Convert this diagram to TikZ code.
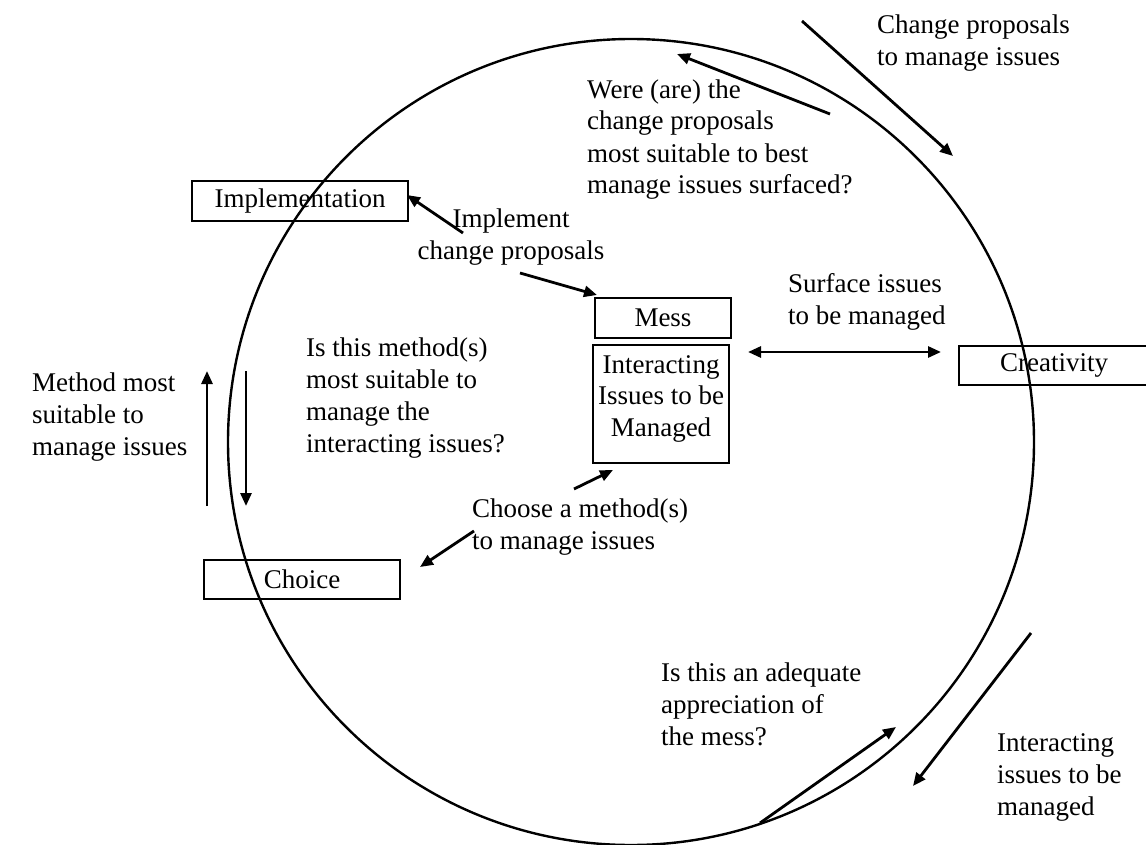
\documentclass[tikz,border=0pt]{standalone}
\usepackage{fontspec}
\setmainfont{Liberation Serif}
\usetikzlibrary{arrows.meta}
\begin{document}
\begin{tikzpicture}[x=1pt,y=-1pt,
  lbl/.style={font=\fontsize{27}{32}\selectfont, inner sep=0pt, align=left, anchor=base west},
  clbl/.style={font=\fontsize{27}{32}\selectfont, inner sep=0pt, align=center, anchor=base},
  box/.style={draw, line width=2.6pt, font=\fontsize{27}{31}\selectfont, inner sep=0pt},
  arr/.style={line width=2.8pt, -{Triangle[length=13pt,width=11pt]}},
  darr/.style={line width=2.8pt, {Triangle[length=13pt,width=11pt]}-{Triangle[length=13pt,width=11pt]}},
  ring/.style={line width=2.4pt}]
\useasboundingbox (0,0) rectangle (1146,845);
\fill[white] (0,0) rectangle (1146,845);

% the cycle
\draw[ring] (631,442) circle [radius=403pt];

% boxes
\node[box, minimum width=216pt, minimum height=40pt] (implem) at (300,201) {Implementation};
\node[box, minimum width=136pt, minimum height=40pt] (mess) at (663,318) {Mess};
\node[box, minimum width=136pt, minimum height=118pt] (inter) at (661,404) {};
\node[clbl, font=\fontsize{27}{31.5}\selectfont] (intertext) at (661,436) {Interacting\\Issues to be\\Managed};
\node[box, minimum width=190pt, minimum height=39pt] (creat) at (1054,365.5) {Creativity};
\node[box, minimum width=196pt, minimum height=39pt] (choice) at (302,579.5) {Choice};

% labels (anchored at the baseline of their last line)
\node[lbl] (lcp) at (877,66) {Change proposals\\to manage issues};
\node[lbl] (lwere) at (587,194) {Were (are) the\\change proposals\\most suitable to best\\manage issues surfaced?};
\node[clbl] (limpl) at (511,259) {Implement\\change proposals};
\node[lbl] (lsurf) at (788,324) {Surface issues\\to be managed};
\node[lbl] (lmeth) at (306,452) {Is this method(s)\\most suitable to\\manage the\\interacting issues?};
\node[lbl] (lmost) at (32,455) {Method most\\suitable to\\manage issues};
\node[lbl] (lchoose) at (472,549) {Choose a method(s)\\to manage issues};
\node[lbl] (ladeq) at (661,745) {Is this an adequate\\appreciation of\\the mess?};
\node[lbl] (linter) at (997,815) {Interacting\\issues to be\\managed};

% arrow end points
\coordinate (p1) at (802,21);   \coordinate (p2) at (953,156);
\coordinate (p3) at (830,114);  \coordinate (p4) at (677,54);
\coordinate (p5) at (463,233);  \coordinate (p6) at (407,195);
\coordinate (p7) at (520,273);  \coordinate (p8) at (597,295);
\coordinate (p9) at (748,352);  \coordinate (p10) at (941,352);
\coordinate (p11) at (207,506); \coordinate (p12) at (207,371);
\coordinate (p13) at (246,371); \coordinate (p14) at (246,506);
\coordinate (p15) at (574,489); \coordinate (p16) at (613,470);
\coordinate (p17) at (474,531); \coordinate (p18) at (420,567);
\coordinate (p19) at (760,823); \coordinate (p20) at (896,727);
\coordinate (p21) at (1031,633); \coordinate (p22) at (913,786);

% connectors
\draw[arr] (p1) -- (p2);
\draw[arr] (p3) -- (p4);
\draw[arr] (p5) -- (p6);
\draw[arr] (p7) -- (p8);
\draw[darr] (p9) -- (p10);
\draw[arr] (p11) -- (p12);
\draw[arr] (p13) -- (p14);
\draw[arr] (p15) -- (p16);
\draw[arr] (p17) -- (p18);
\draw[arr] (p19) -- (p20);
\draw[arr] (p21) -- (p22);
\end{tikzpicture}
\end{document}
